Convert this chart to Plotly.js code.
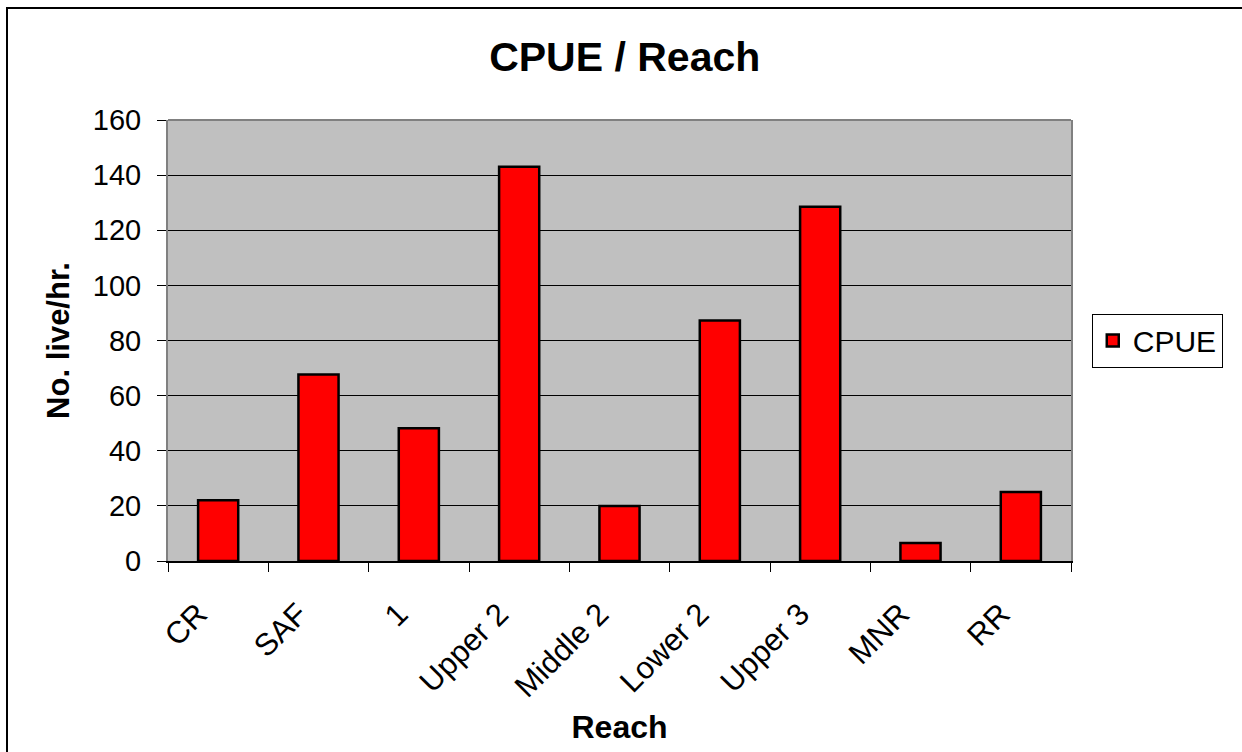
<!DOCTYPE html>
<html>
<head>
<meta charset="utf-8">
<script src="https://cdn.plot.ly/plotly-3.0.1.min.js"></script>
<style>
  html, body { margin: 0; padding: 0; background: #fff; }
  #wrap { position: relative; width: 1242px; height: 752px; overflow: hidden; }
  #chart { position: absolute; left: 0; top: 0; width: 1242px; height: 752px; }
  #frame { position: absolute; left: 6px; top: 7px; width: 1240px; height: 750px; border: 2px solid #000; pointer-events: none; box-sizing: border-box; }
</style>
</head>
<body>
<div id="wrap">
  <div id="chart"></div>
  <div id="frame"></div>
</div>
<script>
const categories = ["CR", "SAF", "1", "Upper 2", "Middle 2", "Lower 2", "Upper 3", "MNR", "RR"];
const cpue = [22, 67.7, 48.2, 143, 20, 87.3, 128.5, 6.5, 25];
const seriesName = "CPUE";
const yTicks = [0, 20, 40, 60, 80, 100, 120, 140, 160];

const font = "Arial, 'Liberation Sans', sans-serif";

const trace = {
  type: "bar",
  x: categories,
  y: cpue,
  name: seriesName,
  marker: { color: "#ff0000", line: { color: "#000000", width: 2.5 } },
  showlegend: true,
  hoverinfo: "x+y"
};

const layout = {
  width: 1242,
  height: 752,
  margin: { l: 168, r: 171, t: 120, b: 191, pad: 0 },
  paper_bgcolor: "rgba(0,0,0,0)",
  plot_bgcolor: "#c0c0c0",
  bargap: 0.6,
  font: { family: font, color: "#000" },
  title: {
    text: "<b>CPUE / Reach</b>",
    font: { family: font, size: 41, color: "#000" },
    xref: "container", x: 0.503,
    yref: "container", y: 1 - 57 / 752, yanchor: "middle"
  },
  xaxis: {
    type: "category",
    tickangle: -45,
    tickfont: { family: font, size: 31, color: "#000" },
    ticks: "outside",
    tickson: "boundaries",
    ticklen: 9,
    tickwidth: 1,
    tickcolor: "#000",
    ticklabelstandoff: 21,
    ticklabelshift: -20,
    showline: true,
    linecolor: "#000",
    linewidth: 1.5,
    showgrid: false,
    zeroline: false,
    title: { text: "<b>Reach</b>", font: { family: font, size: 32, color: "#000" }, standoff: 12 }
  },
  yaxis: {
    range: [0, 160],
    tickvals: yTicks,
    ticktext: yTicks.map(String),
    tickfont: { family: font, size: 29, color: "#000" },
    ticks: "outside",
    ticklen: 9,
    tickwidth: 1,
    tickcolor: "#000",
    ticklabelstandoff: 10,
    showline: true,
    linecolor: "#808080",
    linewidth: 2,
    mirror: true,
    showgrid: true,
    gridcolor: "#000",
    gridwidth: 1,
    zeroline: false,
    title: { text: "<b>No. live/hr.</b>", font: { family: font, size: 31, color: "#000" }, standoff: 14 }
  },
  legend: {
    x: 1.023, xanchor: "left",
    y: 0.5, yanchor: "middle",
    bgcolor: "#fff",
    bordercolor: "#000",
    borderwidth: 1,
    font: { family: font, size: 30, color: "#000" },
    itemwidth: 30,
    tracegroupgap: 0
  },
  shapes: [
    { type: "line", xref: "paper", yref: "paper", x0: 0, x1: 1, y0: 1, y1: 1, line: { color: "#808080", width: 2 }, layer: "above" }
  ]
};

Plotly.newPlot("chart", [trace], layout, { displayModeBar: false, staticPlot: true });
</script>
</body>
</html>
